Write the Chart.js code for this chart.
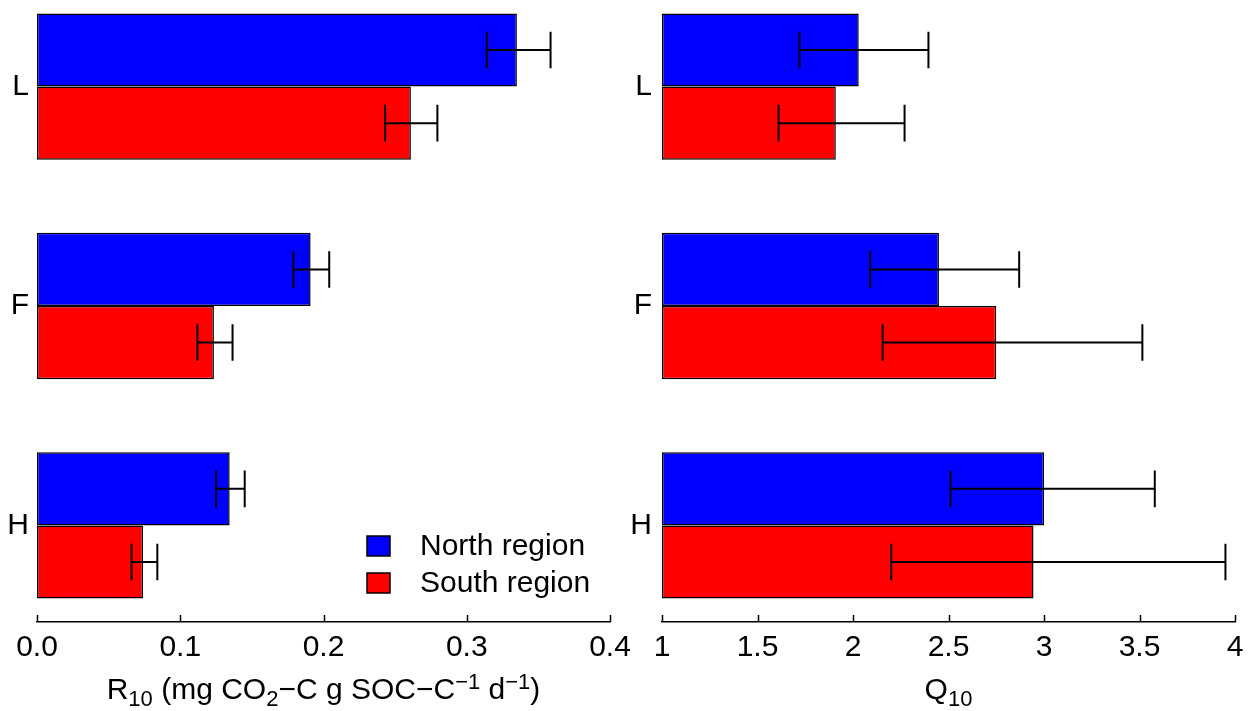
<!DOCTYPE html>
<html lang="en">
<head>
    <meta charset="UTF-8">
    <title>R10 and Q10 by horizon</title>
    <script src="https://cdn.jsdelivr.net/npm/chart.js"></script>
    <style>
        html, body { margin: 0; padding: 0; background: #fff; overflow: hidden; }
        body { width: 1249px; height: 711px; position: relative; }
        .painel { position: absolute; top: -10px; height: 721px; }
        #painel_r10 { left: 0; width: 640px; }
        #painel_q10 { left: 620px; width: 629px; }
    </style>
</head>
<body>
    <div class="painel" id="painel_r10"><canvas id="grafico_r10"></canvas></div>
    <div class="painel" id="painel_q10"><canvas id="grafico_q10"></canvas></div>
<script>
    // horizons, top to bottom
    var horizontes = ['L', 'F', 'H'];
    var regioes = ['North region', 'South region'];
    var cor_regiao = ['#0000ff', '#ff0000'];

    // R10 (mg CO2-C g SOC-C-1 d-1): mean and error bar ends
    var r10_norte = [0.335, 0.191, 0.1345];
    var r10_norte_min = [0.314, 0.179, 0.125];
    var r10_norte_max = [0.3585, 0.204, 0.145];
    var r10_sul = [0.261, 0.1235, 0.074];
    var r10_sul_min = [0.243, 0.112, 0.066];
    var r10_sul_max = [0.2795, 0.1365, 0.084];

    // Q10: mean and error bar ends
    var q10_norte = [2.03, 2.45, 3.0];
    var q10_norte_min = [1.72, 2.09, 2.51];
    var q10_norte_max = [2.395, 2.87, 3.58];
    var q10_sul = [1.91, 2.75, 2.945];
    var q10_sul_min = [1.61, 2.155, 2.2];
    var q10_sul_max = [2.27, 3.515, 3.95];

    var ticks_r10 = [0, 0.1, 0.2, 0.3, 0.4];
    var ticks_q10 = [1, 1.5, 2, 2.5, 3, 3.5, 4];

    var FONTE = "'Liberation Sans', Arial, Helvetica, sans-serif";
    var TAM = 30;
    Chart.defaults.font.family = FONTE;
    Chart.defaults.font.size = TAM;
    Chart.defaults.color = '#000';

    // error bars on each bar
    var barrasErro = {
        id: 'barrasErro',
        afterDatasetsDraw: function (chart) {
            var ctx = chart.ctx;
            var x = chart.scales.x;
            ctx.save();
            ctx.strokeStyle = '#000';
            ctx.lineWidth = 2;
            chart.data.datasets.forEach(function (ds, d) {
                var meta = chart.getDatasetMeta(d);
                meta.data.forEach(function (barra, i) {
                    var x1 = x.getPixelForValue(ds.erroMin[i]);
                    var x2 = x.getPixelForValue(ds.erroMax[i]);
                    var y = barra.y;
                    var meio = barra.height / 4;
                    ctx.beginPath();
                    ctx.moveTo(x1, y); ctx.lineTo(x2, y);
                    ctx.moveTo(x1, y - meio); ctx.lineTo(x1, y + meio);
                    ctx.moveTo(x2, y - meio); ctx.lineTo(x2, y + meio);
                    ctx.stroke();
                });
            });
            ctx.restore();
        }
    };

    // tick marks pointing up from the axis line, and the axis title with sub/superscripts
    var eixoX = {
        id: 'eixoX',
        afterDraw: function (chart, args, opts) {
            var ctx = chart.ctx;
            var x = chart.scales.x;
            var area = chart.chartArea;
            ctx.save();
            ctx.strokeStyle = '#000';
            ctx.lineWidth = 1.5;
            ctx.beginPath();
            x.ticks.forEach(function (t) {
                var px = Math.round(x.getPixelForValue(t.value)) + 0.5;
                ctx.moveTo(px, area.bottom);
                ctx.lineTo(px, area.bottom - 7);
            });
            ctx.stroke();

            var partes = opts.partes || [];
            var total = 0;
            partes.forEach(function (p) {
                ctx.font = (p[1] ? Math.round(TAM * 0.72) : TAM) + 'px ' + FONTE;
                p.w = ctx.measureText(p[0]).width;
                total += p.w;
            });
            var cx = (area.left + area.right) / 2 - total / 2;
            var base = area.bottom + 77;
            ctx.fillStyle = '#000';
            ctx.textBaseline = 'alphabetic';
            ctx.textAlign = 'left';
            partes.forEach(function (p) {
                ctx.font = (p[1] ? Math.round(TAM * 0.72) : TAM) + 'px ' + FONTE;
                var dy = p[1] === 1 ? 7 : (p[1] === 2 ? -10 : 0);
                ctx.fillText(p[0], cx, base + dy);
                cx += p.w;
            });
            ctx.restore();
        }
    };

    // legend boxes inside the R10 panel
    var legenda = {
        id: 'legenda',
        afterDraw: function (chart, args, opts) {
            if (!opts.mostrar) return;
            var ctx = chart.ctx;
            ctx.save();
            ctx.font = TAM + 'px ' + FONTE;
            ctx.textBaseline = 'middle';
            ctx.textAlign = 'left';
            chart.data.datasets.forEach(function (ds, d) {
                var y = opts.y + d * opts.passo;
                ctx.fillStyle = ds.backgroundColor;
                ctx.fillRect(opts.x, y - 10, 23, 20);
                ctx.strokeStyle = '#000';
                ctx.lineWidth = 1.5;
                ctx.strokeRect(opts.x, y - 10, 23, 20);
                ctx.fillStyle = '#000';
                ctx.fillText(ds.label, opts.x + 53, y + 1);
            });
            ctx.restore();
        }
    };

    function montarDatasets(medias, minimos, maximos, base) {
        return regioes.map(function (nome, d) {
            return {
                label: nome,
                data: horizontes.map(function (h, i) { return { y: i, x: medias[d][i] }; }),
                erroMin: minimos[d],
                erroMax: maximos[d],
                backgroundColor: cor_regiao[d],
                borderColor: '#000',
                borderWidth: 1.5,
                borderSkipped: false,
                base: base,
                barPercentage: 1,
                categoryPercentage: 2 / 3
            };
        });
    }

    function criarGrafico(id, datasets, ticks, formato, larguraY, padDireita, padY, titulo, comLegenda) {
        return new Chart(id, {
            type: 'bar',
            data: { datasets: datasets },
            plugins: [barrasErro, eixoX, legenda],
            options: {
                indexAxis: 'y',
                animation: false,
                responsive: true,
                maintainAspectRatio: false,
                layout: { padding: { left: 0, right: padDireita, top: 0, bottom: 0 } },
                plugins: {
                    legend: { display: false },
                    tooltip: { enabled: false },
                    eixoX: { partes: titulo },
                    legenda: { mostrar: comLegenda, x: 367, y: 556, passo: 37 }
                },
                scales: {
                    x: {
                        type: 'linear',
                        position: 'bottom',
                        min: ticks[0],
                        max: ticks[ticks.length - 1],
                        grid: { display: false, drawTicks: false },
                        border: { display: true, color: '#000', width: 1.5 },
                        afterBuildTicks: function (s) {
                            s.ticks = ticks.map(function (v) { return { value: v }; });
                        },
                        ticks: {
                            padding: 8,
                            maxRotation: 0,
                            autoSkip: false,
                            callback: formato
                        },
                        afterFit: function (s) {
                            s.height = 89;
                            s.paddingLeft = 0;
                            s.paddingRight = 0;
                        }
                    },
                    y: {
                        type: 'linear',
                        reverse: true,
                        offset: false,
                        min: -0.44,
                        max: 2.44,
                        grid: { display: false, drawTicks: false, offset: false },
                        border: { display: false },
                        afterBuildTicks: function (s) {
                            s.ticks = horizontes.map(function (h, i) { return { value: i }; });
                        },
                        ticks: {
                            padding: padY,
                            callback: function (v) { return horizontes[v]; }
                        },
                        afterFit: function (s) {
                            s.width = larguraY;
                            s.paddingTop = 0;
                            s.paddingBottom = 0;
                        }
                    }
                }
            }
        });
    }

    criarGrafico('grafico_r10',
        montarDatasets([r10_norte, r10_sul], [r10_norte_min, r10_sul_min], [r10_norte_max, r10_sul_max], ticks_r10[0]),
        ticks_r10,
        function (v) { return Number(v).toFixed(1); },
        37, 30, 8,
        [['R', 0], ['10', 1], [' (mg CO', 0], ['2', 1], ['\u2212C g SOC\u2212C', 0], ['\u22121', 2], [' d', 0], ['\u22121', 2], [')', 0]],
        true);

    criarGrafico('grafico_q10',
        montarDatasets([q10_norte, q10_sul], [q10_norte_min, q10_sul_min], [q10_norte_max, q10_sul_max], ticks_q10[0]),
        ticks_q10,
        function (v) { return String(v); },
        42, 14, 10,
        [['Q', 0], ['10', 1]],
        false);
</script>
</body>
</html>
